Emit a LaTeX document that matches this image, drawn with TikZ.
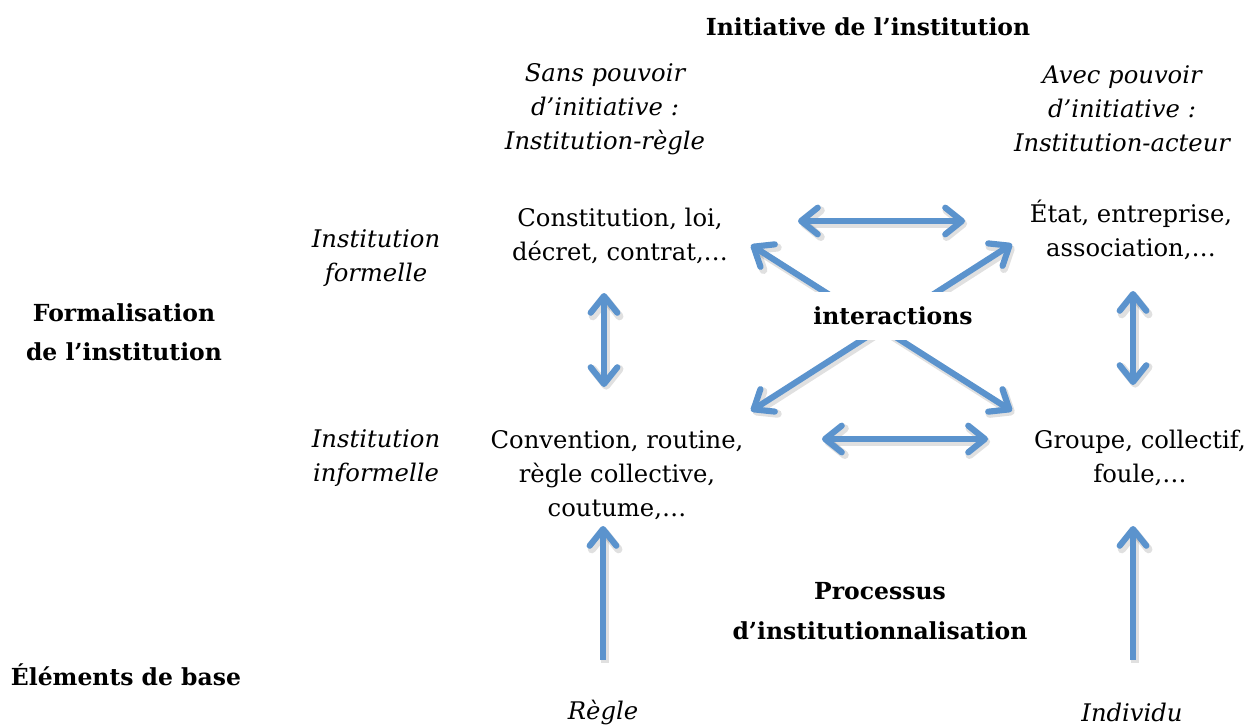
\documentclass[tikz,border=0pt]{standalone}
\usepackage{fontspec}
\setmainfont{DejaVu Serif}
\usetikzlibrary{arrows.meta}
\definecolor{arrowblue}{HTML}{5B93CD}
\begin{document}
\begin{tikzpicture}[x=0.75pt,y=-0.75pt,
  txt/.style={align=center, font=\fontsize{18.2}{25.5}\selectfont, inner sep=0pt},
  itxt/.style={align=center, font=\fontsize{18.2}{25.5}\selectfont\itshape, inner sep=0pt},
  btxt/.style={align=center, font=\fontsize{17.6}{29.5}\selectfont\bfseries, inner sep=0pt},
  dbl/.style={draw=arrowblue, line width=4.6pt, {Straight Barb[length=12.5pt,width=20pt,round]}-{Straight Barb[length=12.5pt,width=20pt,round]}},
  sgl/.style={draw=arrowblue, line width=4.6pt, -{Straight Barb[length=12.5pt,width=20pt,round]}},
  shd/.style={draw=black, draw opacity=0.12, line width=6pt, transform canvas={shift={(1.6pt,-2pt)}}},
  shdd/.style={shd, {Straight Barb[length=12.5pt,width=20pt,round]}-{Straight Barb[length=12.5pt,width=20pt,round]}},
  shds/.style={shd, -{Straight Barb[length=12.5pt,width=20pt,round]}}]
\fill[white] (0,0) rectangle (1256,726);
\useasboundingbox (0,0) rectangle (1256,726);

% headings
\node[btxt] (title) at (868,27) {Initiative de l’institution};
\node[btxt] (formal) at (124,332) {Formalisation\\de l’institution};
\node[btxt] (base) at (126,675) {Éléments de base};
\node[btxt] (proc) at (880,611) {Processus\\d’institutionnalisation};

% column headings
\node[itxt] (sans) at (605,109) {Sans pouvoir\\d’initiative :\\Institution-règle};
\node[itxt] (avec) at (1122,109) {Avec pouvoir\\d’initiative :\\Institution-acteur};

% row headings
\node[itxt] (iform) at (376,258) {Institution\\formelle};
\node[itxt] (iinform) at (376,458) {Institution\\informelle};

% cells
\node[txt] (consti) at (620,236) {Constitution, loi,\\décret, contrat,…};
\node[txt] (etat) at (1131,230) {État, entreprise,\\association,…};
\node[txt] (conv) at (617,475) {Convention, routine,\\règle collective,\\coutume,…};
\node[txt] (groupe) at (1140,458) {Groupe, collectif,\\foule,…};

% base elements
\node[itxt] (regle) at (603,712) {Règle};
\node[itxt] (indiv) at (1132,712) {Individu};

% arrow end points
\coordinate (tl) at (798,221);
\coordinate (tr) at (965,221);
\coordinate (bl) at (822,439);
\coordinate (br) at (988,439);
\coordinate (vlt) at (604,293);
\coordinate (vlb) at (604,387);
\coordinate (vrt) at (1133,291);
\coordinate (vrb) at (1133,385);
\coordinate (xul) at (751,245);
\coordinate (xur) at (1012,244);
\coordinate (xll) at (751,411);
\coordinate (xlr) at (1012,411);
\coordinate (ult) at (603,660);
\coordinate (ulh) at (603,526);
\coordinate (urt) at (1133,660);
\coordinate (urh) at (1133,526);

% shadows
\draw[shdd] (tl) -- (tr);
\draw[shdd] (bl) -- (br);
\draw[shdd] (vlt) -- (vlb);
\draw[shdd] (vrt) -- (vrb);
\draw[shdd] (xul) -- (xlr);
\draw[shdd] (xur) -- (xll);
\draw[shds] (ult) -- (ulh);
\draw[shds] (urt) -- (urh);

% arrows
\draw[dbl] (tl) -- (tr);
\draw[dbl] (bl) -- (br);
\draw[dbl] (vlt) -- (vlb);
\draw[dbl] (vrt) -- (vrb);
\draw[dbl] (xul) -- (xlr);
\draw[dbl] (xur) -- (xll);
\draw[sgl] (ult) -- (ulh);
\draw[sgl] (urt) -- (urh);

\node[btxt, fill=white, minimum height=36pt, inner xsep=4pt] (inter) at (893,316) {interactions};
\end{tikzpicture}
\end{document}
